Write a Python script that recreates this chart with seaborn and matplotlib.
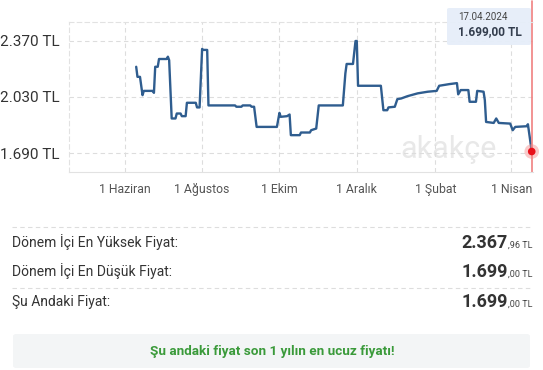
import matplotlib
matplotlib.use("Agg")
import matplotlib.pyplot as plt
from matplotlib.patches import FancyBboxPatch
import seaborn as sns
import pandas as pd

# ---- data ----
dates = ["2023-06-10", "2023-06-11", "2023-06-13", "2023-06-15", "2023-06-16", "2023-06-23",
         "2023-06-24", "2023-06-25", "2023-06-27", "2023-06-28", "2023-07-04", "2023-07-05",
         "2023-07-06", "2023-07-08", "2023-07-11", "2023-07-12", "2023-07-15", "2023-07-16",
         "2023-07-19", "2023-07-20", "2023-07-27", "2023-07-28", "2023-07-30", "2023-08-01",
         "2023-08-02", "2023-08-05", "2023-08-06", "2023-08-27", "2023-08-28", "2023-09-01",
         "2023-09-02", "2023-09-08", "2023-09-09", "2023-09-11", "2023-09-13", "2023-09-29",
         "2023-10-01", "2023-10-02", "2023-10-07", "2023-10-09", "2023-10-10", "2023-10-17",
         "2023-10-18", "2023-10-25", "2023-10-26", "2023-10-30", "2023-11-01", "2023-11-20",
         "2023-11-22", "2023-11-23", "2023-11-28", "2023-11-30", "2023-12-01", "2023-12-02",
         "2023-12-20", "2023-12-22", "2023-12-25", "2023-12-26", "2023-12-31", "2024-01-02",
         "2024-01-05", "2024-01-10", "2024-01-18", "2024-01-26", "2024-02-02", "2024-02-04",
         "2024-02-12", "2024-02-18", "2024-02-19", "2024-02-21", "2024-02-27", "2024-02-28",
         "2024-03-04", "2024-03-05", "2024-03-10", "2024-03-11", "2024-03-12", "2024-03-18",
         "2024-03-20", "2024-03-22", "2024-03-31", "2024-04-02", "2024-04-04", "2024-04-13",
         "2024-04-14", "2024-04-17"]
prices = [2212, 2151, 2151, 2040, 2066, 2066,
          2054, 2212, 2212, 2259, 2259, 2273,
          2252, 1899, 1899, 1929, 1929, 1913,
          1913, 1994, 1994, 1966, 1966, 2320,
          2314, 2314, 1978, 1978, 1970, 1970,
          1978, 1978, 1970, 1970, 1848, 1848,
          1933, 1909, 1913, 1923, 1798, 1798,
          1814, 1814, 1828, 1838, 1978, 1978,
          2172, 2229, 2229, 2368, 2368, 2097,
          2097, 1949, 1949, 1966, 1970, 2016,
          2020, 2034, 2051, 2061, 2066, 2097,
          2107, 2113, 2045, 2071, 2071, 2000,
          2000, 2066, 2061, 2010, 1878, 1872,
          1899, 1872, 1868, 1828, 1848, 1852,
          1864, 1699]
y_ticks = [1690, 2030, 2370]
y_tick_labels = ["1.690 TL", "2.030 TL", "2.370 TL"]
x_ticks = ["2023-06-01", "2023-08-01", "2023-10-01", "2023-12-01", "2024-02-01", "2024-04-01"]
x_tick_labels = ["1 Haziran", "1 Ağustos", "1 Ekim", "1 Aralık", "1 Şubat", "1 Nisan"]
x_range = ["2023-04-18", "2024-04-18"]
current_date = "2024-04-17"
current_label = "17.04.2024"
current_value_label = "1.699,00 TL"
summary_labels = ["Dönem İçi En Yüksek Fiyat:", "Dönem İçi En Düşük Fiyat:", "Şu Andaki Fiyat:"]
summary_main = ["2.367", "1.699", "1.699"]
summary_small = [",96 TL", ",00 TL", ",00 TL"]
banner_text = "Şu andaki fiyat son 1 yılın en ucuz fiyatı!"

df = pd.DataFrame({"date": pd.to_datetime(dates), "price": prices})

sns.set_theme(style="white")
plt.rcParams["font.family"] = ["Roboto", "DejaVu Sans"]

W, H = 543, 370
fig = plt.figure(figsize=(W / 100, H / 100), dpi=100)
ax = fig.add_axes([69 / W, 1 - 172 / H, (533 - 69) / W, 150 / H])

sns.lineplot(data=df, x="date", y="price", ax=ax, color="#2f5d8f", linewidth=1.7)

ax.set_xlim(pd.to_datetime(x_range[0]), pd.to_datetime(x_range[1]))
ax.set_ylim(1575, 2483)
ax.set_xticks(pd.to_datetime(x_ticks))
ax.set_xticklabels(x_tick_labels, fontsize=8.8, color="#555555")
ax.set_yticks(y_ticks)
ax.set_yticklabels(y_tick_labels, fontsize=11, color="#333333")
ax.set_xlabel("")
ax.set_ylabel("")
ax.tick_params(axis="x", length=0, pad=8)
ax.tick_params(axis="y", length=0, pad=7)
ax.grid(True, color="#dddddd", linestyle=(0, (4, 3)), linewidth=0.8)
for side, sp in ax.spines.items():
    sp.set_visible(side in ("left", "top", "bottom"))
    sp.set_color("#e2e2e2")
    sp.set_linewidth(0.8)
    if side in ("left", "top"):
        sp.set_linestyle((0, (4, 3)))

# watermark
ax.text(0.817, 0.15, "akakçe", transform=ax.transAxes, ha="center", va="center",
        fontsize=22, color="#e8e8e8", zorder=0)

# current point / red line
cd = pd.to_datetime(current_date)
ax.axvline(cd, color="#f08080", linewidth=1.2, ymin=0, ymax=1.14, clip_on=False)
ax.scatter([cd], [prices[-1]], s=110, color="#f28b8b", alpha=0.45, zorder=5, edgecolor="none", clip_on=False)
ax.scatter([cd], [prices[-1]], s=30, color="#e8101a", zorder=6, edgecolor="none", clip_on=False)

# tooltip
tip = FancyBboxPatch((447 / W, 1 - 45 / H), (531 - 447) / W, 37 / H,
                     boxstyle="round,pad=0,rounding_size=0.004", transform=fig.transFigure,
                     facecolor="#e6eef9", edgecolor="none", alpha=0.95, zorder=10)
fig.patches.append(tip)
fig.text(458 / W, 1 - 17 / H, current_label, fontsize=7, color="#444444", va="center", zorder=11)
fig.text(458 / W, 1 - 32 / H, current_value_label, fontsize=8.6, color="#333d4d",
         fontweight="bold", va="center", zorder=11)

# separators
for yy in (227, 288):
    fig.add_artist(plt.Line2D([12 / W, 532 / W], [1 - yy / H, 1 - yy / H], transform=fig.transFigure,
                              color="#dddddd", linewidth=0.8, linestyle=(0, (4, 3))))

# summary rows
fig.canvas.draw()
renderer = fig.canvas.get_renderer()
row_y = [243, 272, 302]
for lab, main, small, yy in zip(summary_labels, summary_main, summary_small, row_y):
    fig.text(12 / W, 1 - (yy + 4) / H, lab, fontsize=10, color="#333333", va="baseline")
    t_small = fig.text(532 / W, 1 - (yy + 5) / H, small, fontsize=6.5, color="#444444",
                       ha="right", va="baseline")
    bb = t_small.get_window_extent(renderer)
    fig.text(bb.x0 / W, 1 - (yy + 5) / H, main, fontsize=13, color="#333333",
             fontweight="bold", ha="right", va="baseline")

# banner
banner = FancyBboxPatch((13 / W, 1 - 368 / H), (530 - 13) / W, 34 / H,
                        boxstyle="round,pad=0,rounding_size=0.006", transform=fig.transFigure,
                        facecolor="#f3f5f6", edgecolor="none")
fig.patches.append(banner)
fig.text(272 / W, 1 - 352 / H, banner_text, fontsize=9.7, color="#3a9a3a",
         fontweight="bold", ha="center", va="center")

fig.savefig("out.png", dpi=100)
